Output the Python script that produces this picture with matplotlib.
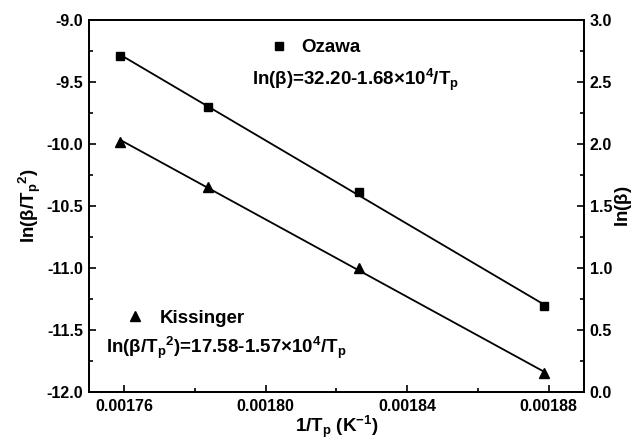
#Ozawa and Kissinger plots

#importing libaries
import matplotlib.pyplot as plt
import numpy as np
from matplotlib.ticker import MultipleLocator, FormatStrFormatter
from matplotlib.lines import Line2D

plt.rcParams['font.family'] = ['Liberation Sans', 'DejaVu Sans']
plt.rcParams['font.weight'] = 'bold'
plt.rcParams['axes.labelweight'] = 'bold'
plt.rcParams['mathtext.fontset'] = 'custom'
plt.rcParams['mathtext.rm'] = 'Liberation Sans:bold'
plt.rcParams['mathtext.it'] = 'Liberation Sans:bold'
plt.rcParams['mathtext.bf'] = 'Liberation Sans:bold'
plt.rcParams['mathtext.default'] = 'regular'

#data
inv_tp = [0.0017588, 0.0017838, 0.0018263, 0.0018788]   # 1/Tp (K^-1)
ln_beta = [2.71, 2.30, 1.61, 0.69]                      # Ozawa, right axis
ln_beta_tp2 = [-9.98, -10.35, -11.00, -11.85]           # Kissinger, left axis

ozawa_eq = r'ln($\beta$)=32.20-1.68$\times$10$^4$/T$_p$'
kiss_eq = r'ln($\beta$/T$_p$$^2$)=17.58-1.57$\times$10$^4$/T$_p$'

#linear fits
x = np.array(inv_tp)
p_oz = np.polyfit(x, ln_beta, 1)
p_ki = np.polyfit(x, ln_beta_tp2, 1)
xs = np.array([x.min(), x.max()])

fig = plt.figure(figsize=(6.37, 4.42), dpi=100)
ax = fig.add_axes([0.1397, 0.1131, 0.7771, 0.8417])
ax2 = ax.twinx()

#Kissinger on left axis
ax.plot(xs, np.polyval(p_ki, xs), color='black', linewidth=1.3)
ax.plot(x, ln_beta_tp2, linestyle='none', marker='^', color='black', markersize=7)

#Ozawa on right axis
ax2.plot(xs, np.polyval(p_oz, xs), color='black', linewidth=1.3)
ax2.plot(x, ln_beta, linestyle='none', marker='s', color='black', markersize=6)

#axis ranges
ax.set_xlim(0.00175, 0.00189)
ax.set_ylim(-12.0, -9.0)
ax2.set_ylim(0.0, 3.0)

#ticks
ax.xaxis.set_major_locator(MultipleLocator(0.00004))
ax.xaxis.set_minor_locator(MultipleLocator(0.00002))
ax.xaxis.set_major_formatter(FormatStrFormatter('%.5f'))
ax.yaxis.set_major_locator(MultipleLocator(0.5))
ax.yaxis.set_minor_locator(MultipleLocator(0.25))
ax.yaxis.set_major_formatter(FormatStrFormatter('%.1f'))
ax2.yaxis.set_major_locator(MultipleLocator(0.5))
ax2.yaxis.set_minor_locator(MultipleLocator(0.25))
ax2.yaxis.set_major_formatter(FormatStrFormatter('%.1f'))
for a in (ax, ax2):
    a.tick_params(which='both', direction='in', labelsize=11.5, width=1.2)
    a.tick_params(which='major', length=5)
    a.tick_params(which='minor', length=3)
    for s in a.spines.values():
        s.set_linewidth(1.3)
    for lbl in a.get_xticklabels() + a.get_yticklabels():
        lbl.set_fontweight('bold')
ax.tick_params(axis='x', pad=5)
ax.tick_params(axis='y', pad=4)
ax2.tick_params(axis='y', pad=4)

#axis labels
ax.set_xlabel(r'1/T$_p$ (K$^{-1}$)', fontsize=13.5, labelpad=0)
ax.set_ylabel(r'ln($\beta$/T$_p$$^2$)', fontsize=13.5, labelpad=3)
ax2.set_ylabel(r'ln($\beta$)', fontsize=13.5, labelpad=1)

#legends
h_oz = Line2D([], [], linestyle='none', marker='s', color='black', markersize=6)
h_ki = Line2D([], [], linestyle='none', marker='^', color='black', markersize=7)
leg1 = ax2.legend([h_oz], ['Ozawa'], loc='center left', bbox_to_anchor=(0.331, 0.925),
                  frameon=False, fontsize=13.5, handletextpad=0.7, handlelength=1.0)
ax2.add_artist(leg1)
ax2.legend([h_ki], ['Kissinger'], loc='center left', bbox_to_anchor=(0.04, 0.198),
           frameon=False, fontsize=13.5, handletextpad=0.8, handlelength=1.0)

#equations
ax.text(0.33, 0.84, ozawa_eq, transform=ax.transAxes, fontsize=13.5, va='center')
ax.text(0.035, 0.118, kiss_eq, transform=ax.transAxes, fontsize=13.5, va='center')

plt.savefig('out.png', dpi=100)
